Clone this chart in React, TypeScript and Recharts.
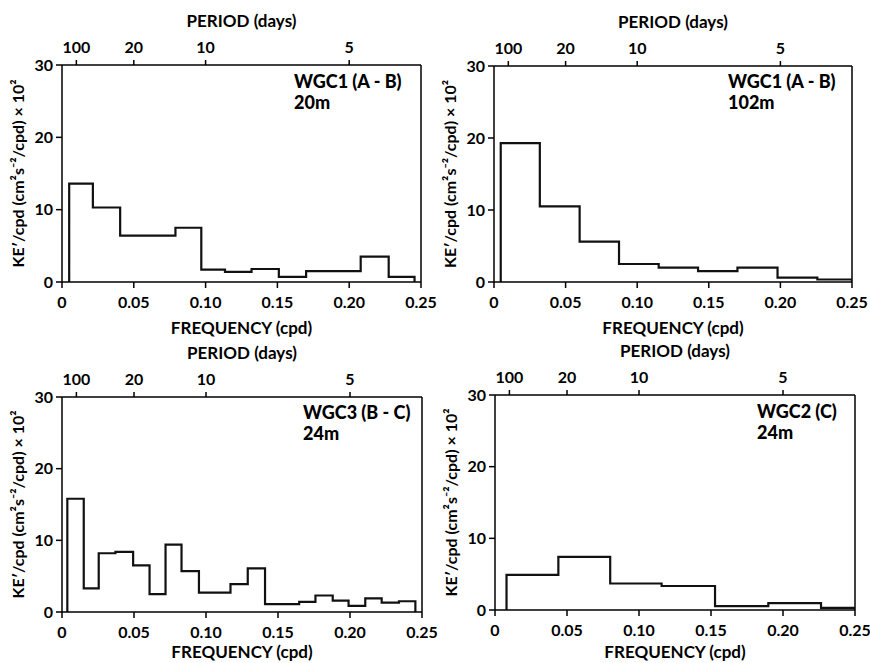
import { LineChart, Line, XAxis, YAxis, ReferenceLine } from "recharts";

// axis ticks
const periodTicks = [100, 20, 10, 5];
const freqTicks = [0, 0.05, 0.1, 0.15, 0.2, 0.25];
const keTicks = [0, 10, 20, 30];

// WGC1 (A - B) 20m : bin edges (cpd) and KE'/cpd per bin
const wgc1_20mEdges = [0.005, 0.0215, 0.0405, 0.079, 0.097, 0.1135, 0.132, 0.151, 0.17, 0.208, 0.2275, 0.2455];
const wgc1_20mValues = [13.6, 10.3, 6.4, 7.5, 1.7, 1.4, 1.8, 0.7, 1.5, 3.5, 0.7];

// WGC1 (A - B) 102m
const wgc1_102mEdges = [0.0047, 0.032, 0.0598, 0.0873, 0.115, 0.1425, 0.17, 0.198, 0.2258, 0.25];
const wgc1_102mValues = [19.3, 10.5, 5.6, 2.5, 2.0, 1.5, 2.0, 0.6, 0.35];

// WGC3 (B - C) 24m
const wgc3_24mEdges = [0.0037, 0.0151, 0.0255, 0.0371, 0.0494, 0.0608, 0.0719, 0.083, 0.0951, 0.117, 0.129, 0.141, 0.1647, 0.176, 0.188, 0.199, 0.2106, 0.222, 0.234, 0.2454];
const wgc3_24mValues = [15.8, 3.3, 8.2, 8.4, 6.5, 2.5, 9.4, 5.7, 2.7, 3.9, 6.1, 1.1, 1.4, 2.3, 1.6, 0.85, 1.9, 1.3, 1.5];

// WGC2 (C) 24m
const wgc2_24mEdges = [0.008, 0.044, 0.08, 0.1157, 0.1528, 0.1898, 0.2264, 0.25];
const wgc2_24mValues = [4.9, 7.4, 3.7, 3.35, 0.55, 0.95, 0.3];

const FONT = "Lato, 'Open Sans', sans-serif";
const Y_AXIS_W = 62;
const TOP_AXIS_H = 57;
const BOTTOM_AXIS_H = 55;
const TOP_MARGIN = 8;
const RIGHT_MARGIN = 20;

// histogram outline as points for a stepAfter line
function toSteps(edges: number[], values: number[]) {
  const pts = [{ f: edges[0], ke: 0 }];
  values.forEach((v, i) => pts.push({ f: edges[i], ke: v }));
  pts.push({ f: edges[edges.length - 1], ke: 0 });
  return pts;
}

const tickStyle = { fill: "#000", fontSize: 16, fontWeight: 700, fontFamily: FONT };
const axisStyle = { stroke: "#000", strokeWidth: 1.5 };

type PanelProps = {
  box: [number, number, number, number]; // plot left, top, right, bottom on the page
  edges: number[];
  values: number[];
  title: string;
  depth: string;
  note: [number, number];
  freqLabelOffset: number;
};

function Panel({ box, edges, values, title, depth, note, freqLabelOffset }: PanelProps) {
  const [x0, y0, x1, y1] = box;
  const width = x1 - x0 + Y_AXIS_W + RIGHT_MARGIN;
  const height = y1 - y0 + TOP_AXIS_H + TOP_MARGIN + BOTTOM_AXIS_H;
  const data = toSteps(edges, values);

  return (
    <div
      style={{
        position: "absolute",
        left: x0 - Y_AXIS_W,
        top: y0 - TOP_AXIS_H - TOP_MARGIN,
        width,
        height,
      }}
    >
      <LineChart
        width={width}
        height={height}
        data={data}
        margin={{ top: TOP_MARGIN, right: RIGHT_MARGIN, bottom: 0, left: 0 }}
      >
        {/* Period on top */}
        <XAxis
          xAxisId="top"
          orientation="top"
          dataKey="f"
          type="number"
          domain={[0, 0.25]}
          allowDataOverflow
          ticks={periodTicks.map((p) => 1 / p)}
          interval={0}
          tickFormatter={(f: number) => String(Math.round(1 / f))}
          height={TOP_AXIS_H}
          tick={tickStyle}
          tickSize={5}
          tickMargin={7}
          axisLine={axisStyle}
          tickLine={axisStyle}
          label={{
            value: "PERIOD (days)",
            position: "insideTop",
            offset: 7,
            fill: "#000",
            fontSize: 17,
            fontWeight: 700,
            fontFamily: FONT,
          }}
        />

        {/* Frequency on bottom */}
        <XAxis
          xAxisId="bottom"
          dataKey="f"
          type="number"
          domain={[0, 0.25]}
          allowDataOverflow
          ticks={freqTicks}
          interval={0}
          tickFormatter={(v: number) => (v === 0 ? "0" : v.toFixed(2))}
          height={BOTTOM_AXIS_H}
          tick={tickStyle}
          tickSize={6}
          tickMargin={9}
          axisLine={axisStyle}
          tickLine={axisStyle}
          label={{
            value: "FREQUENCY (cpd)",
            position: "insideBottom",
            offset: freqLabelOffset,
            fill: "#000",
            fontSize: 17,
            fontWeight: 700,
            fontFamily: FONT,
          }}
        />

        <YAxis
          type="number"
          domain={[0, 30]}
          ticks={keTicks}
          interval={0}
          width={Y_AXIS_W}
          tick={tickStyle}
          tickSize={6}
          tickMargin={3}
          axisLine={axisStyle}
          tickLine={axisStyle}
          label={{
            value: "KE′/cpd (cm²s⁻²/cpd) × 10²",
            angle: -90,
            position: "insideLeft",
            offset: 18,
            style: { textAnchor: "middle" },
            fill: "#000",
            fontSize: 16,
            fontWeight: 700,
            fontFamily: FONT,
          }}
        />

        {/* right frame */}
        <ReferenceLine xAxisId="bottom" x={0.25} stroke="#000" strokeWidth={1.5} />

        <Line
          xAxisId="bottom"
          type="stepAfter"
          dataKey="ke"
          stroke="#111"
          strokeWidth={2.2}
          dot={false}
          activeDot={false}
          isAnimationActive={false}
        />
      </LineChart>

      <div
        style={{
          position: "absolute",
          left: Y_AXIS_W + note[0],
          top: TOP_AXIS_H + TOP_MARGIN + note[1],
          fontFamily: FONT,
          fontWeight: 900,
          fontSize: 18,
          lineHeight: "21px",
          color: "#000",
          whiteSpace: "pre",
        }}
      >
        <div>{title}</div>
        <div>{depth}</div>
      </div>
    </div>
  );
}

export default function App() {
  return (
    <div
      style={{
        position: "absolute",
        left: 0,
        top: 0,
        width: 870,
        height: 663,
        overflow: "hidden",
        background: "#fff",
      }}
    >
      <Panel box={[62, 65, 421, 282]} edges={wgc1_20mEdges} values={wgc1_20mValues} title="WGC1 (A - B)" depth="20m" note={[232, 6]} freqLabelOffset={3} />
      <Panel box={[494, 66, 852, 282]} edges={wgc1_102mEdges} values={wgc1_102mValues} title="WGC1 (A - B)" depth="102m" note={[234, 5]} freqLabelOffset={3} />
      <Panel box={[62, 397, 422, 612]} edges={wgc3_24mEdges} values={wgc3_24mValues} title="WGC3 (B - C)" depth="24m" note={[241, 5]} freqLabelOffset={9} />
      <Panel box={[495, 395, 855, 610]} edges={wgc2_24mEdges} values={wgc2_24mValues} title="WGC2 (C)" depth="24m" note={[262, 6]} freqLabelOffset={7} />
    </div>
  );
}
